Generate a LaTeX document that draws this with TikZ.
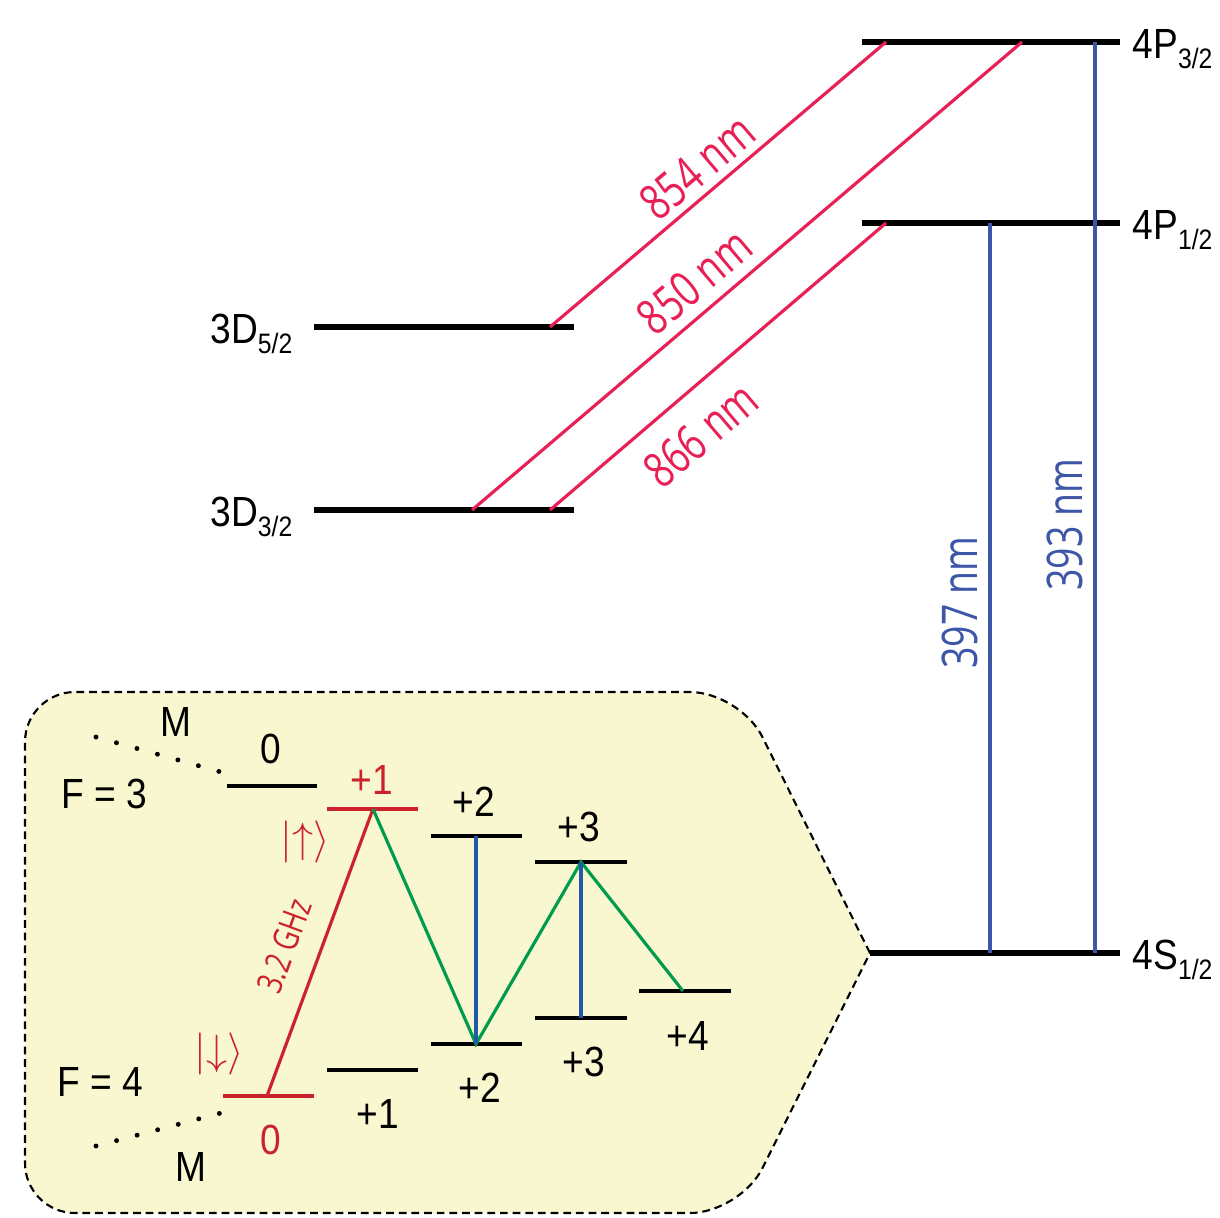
\documentclass[tikz,border=0pt]{standalone}
\usepackage{fontspec}
\setmainfont{Liberation Sans}[FakeStretch=0.88]
\newfontfamily\wavefont{Open Sans}[FakeStretch=0.76]
\usetikzlibrary{positioning, calc}
\definecolor{IONred}{RGB}{232, 32, 86}
\definecolor{IONblue}{RGB}{62, 86, 168}
\definecolor{QBred}{RGB}{204, 34, 44}
\definecolor{QBgreen}{RGB}{0, 156, 76}
\definecolor{QBblue}{RGB}{34, 90, 170}
\definecolor{QBfill}{RGB}{248, 247, 208}
\newcommand{\lsub}[1]{\raisebox{-1mm}{\fontsize{8}{9}\selectfont #1}}
\tikzset{
  lvl/.style={line width=1.5pt, black},
  sublvl/.style={line width=1.1pt, black},
  lbl/.style={inner sep=0pt, font=\fontsize{12}{14}\selectfont},
  wave/.style={inner sep=2pt, sloped, font=\wavefont\fontsize{14}{16}\selectfont},
  irline/.style={line width=0.9pt, IONred},
  uvline/.style={line width=0.9pt, IONblue},
  qbline/.style={line width=0.9pt},
  qbbox/.style={draw=black, fill=QBfill, dash pattern=on 2.2pt off 1.4pt, line width=0.6pt},
  mdots/.style={line width=1.4pt, line cap=round, dash pattern=on 0pt off 6.05pt},
}

\begin{document}
\begin{tikzpicture}
  \useasboundingbox (0,0) rectangle (12.2,-12.17);

  % hyperfine box
  \coordinate (tip) at (8.70,-9.53);
  \draw[qbbox] (tip) [rounded corners=5mm] -- (7.40,-6.92) -- (0.25,-6.92)
    -- (0.25,-12.13) -- (7.40,-12.13) -- (tip);

  % fine structure levels
  \coordinate (P32a) at (8.62,-0.42);  \coordinate (P32b) at (11.20,-0.42);
  \coordinate (P12a) at (8.62,-2.23);  \coordinate (P12b) at (11.20,-2.23);
  \coordinate (S12b) at (11.20,-9.53);
  \coordinate (D52a) at (3.14,-3.27);  \coordinate (D52b) at (5.74,-3.27);
  \coordinate (D32a) at (3.14,-5.10);  \coordinate (D32b) at (5.74,-5.10);
  \draw[lvl] (P32a) -- (P32b);
  \draw[lvl] (P12a) -- (P12b);
  \draw[lvl] (tip) -- (S12b);
  \draw[lvl] (D52a) -- (D52b);
  \draw[lvl] (D32a) -- (D32b);

  \node[lbl, anchor=base west] (P32) at (11.32,-0.58) {4P\lsub{3/2}};
  \node[lbl, anchor=base west] (P12) at (11.32,-2.39) {4P\lsub{1/2}};
  \node[lbl, anchor=base west] (S12) at (11.32,-9.69) {4S\lsub{1/2}};
  \node[lbl, anchor=base east] (D52) at (2.93,-3.43) {3D\lsub{5/2}};
  \node[lbl, anchor=base east] (D32) at (2.93,-5.26) {3D\lsub{3/2}};

  % transitions
  \coordinate (t854a) at (5.50,-3.27);  \coordinate (t854b) at (8.86,-0.42);
  \coordinate (t850a) at (4.72,-5.10);  \coordinate (t850b) at (10.22,-0.42);
  \coordinate (t866a) at (5.50,-5.10);  \coordinate (t866b) at (8.86,-2.23);
  \coordinate (t397a) at (9.90,-9.53);  \coordinate (t397b) at (9.90,-2.23);
  \coordinate (t393a) at (10.95,-9.53); \coordinate (t393b) at (10.95,-0.42);
  \draw[irline] (t854a) -- node[wave, IONred, pos=0.49, above] (w854) {854 nm} (t854b);
  \draw[irline] (t850a) -- node[wave, IONred, pos=0.44, above=1pt] (w850) {850 nm} (t850b);
  \draw[irline] (t866a) -- node[wave, IONred, pos=0.37, below=4pt] (w866) {866 nm} (t866b);
  \draw[uvline] (t397a) -- node[wave, IONblue, pos=0.48, above=1pt] (w397) {397 nm} (t397b);
  \draw[uvline] (t393a) -- node[wave, IONblue, pos=0.47, above=1pt] (w393) {393 nm} (t393b);

  % hyperfine levels
  \coordinate (u0a) at (2.27,-7.86);  \coordinate (u0b) at (3.17,-7.86);
  \coordinate (u1a) at (3.27,-8.09);  \coordinate (u1b) at (4.18,-8.09);
  \coordinate (u2a) at (4.31,-8.36);  \coordinate (u2b) at (5.22,-8.36);
  \coordinate (u3a) at (5.35,-8.62);  \coordinate (u3b) at (6.27,-8.62);
  \coordinate (d0a) at (2.23,-10.96); \coordinate (d0b) at (3.14,-10.96);
  \coordinate (d1a) at (3.27,-10.70); \coordinate (d1b) at (4.18,-10.70);
  \coordinate (d2a) at (4.31,-10.44); \coordinate (d2b) at (5.22,-10.44);
  \coordinate (d3a) at (5.35,-10.18); \coordinate (d3b) at (6.27,-10.18);
  \coordinate (d4a) at (6.39,-9.91);  \coordinate (d4b) at (7.31,-9.91);
  \draw[sublvl] (u0a) -- (u0b);
  \draw[sublvl, QBred] (u1a) -- (u1b);
  \draw[sublvl] (u2a) -- (u2b);
  \draw[sublvl] (u3a) -- (u3b);
  \draw[sublvl, QBred] (d0a) -- (d0b);
  \draw[sublvl] (d1a) -- (d1b);
  \draw[sublvl] (d2a) -- (d2b);
  \draw[sublvl] (d3a) -- (d3b);
  \draw[sublvl] (d4a) -- (d4b);

  % qubit and coupling lines
  \coordinate (q0) at (2.67,-10.96);
  \coordinate (q1) at (3.73,-8.09);
  \coordinate (g2) at (4.76,-10.44);
  \coordinate (b2) at (4.76,-8.36);
  \coordinate (g3) at (5.81,-8.62);
  \coordinate (b3) at (5.81,-10.18);
  \coordinate (g4) at (6.83,-9.91);
  \draw[qbline, QBred] (q0) -- node[pos=0.48, sloped, above=4pt, inner sep=2pt,
    font=\wavefont\fontsize{10}{12}\selectfont] (ghz) {3.2 GHz} (q1);
  \draw[qbline, QBgreen] (q1) -- (g2) -- (g3) -- (g4);
  \draw[qbline, QBblue] (b2) -- (g2);
  \draw[qbline, QBblue] (g3) -- (b3);

  % M dots
  \coordinate (mu1) at (0.96,-7.37);  \coordinate (mu2) at (2.21,-7.72);
  \coordinate (md1) at (0.96,-11.46); \coordinate (md2) at (2.21,-11.13);
  \draw[mdots] (mu1) -- (mu2);
  \draw[mdots] (md1) -- (md2);

  % hyperfine labels
  \node[lbl] (Mup) at (1.76,-7.22) {M};
  \node[lbl] (Mdn) at (1.91,-11.67) {M};
  \node[lbl] (F3) at (1.04,-7.94) {F = 3};
  \node[lbl] (F4) at (1.00,-10.82) {F = 4};
  \node[lbl] (mu0) at (2.71,-7.49) {0};
  \node[lbl, QBred] (mu1l) at (3.72,-7.80) {+1};
  \node[lbl] (mu2l) at (4.74,-8.02) {+2};
  \node[lbl] (mu3l) at (5.79,-8.27) {+3};
  \node[lbl, QBred] (md0) at (2.71,-11.40) {0};
  \node[lbl] (md1l) at (3.78,-11.14) {+1};
  \node[lbl] (md2l) at (4.80,-10.88) {+2};
  \node[lbl] (md3l) at (5.84,-10.62) {+3};
  \node[lbl] (md4l) at (6.88,-10.36) {+4};
  \node[QBred, inner sep=0pt, font=\fontsize{12}{14}\selectfont] (up) at (3.05,-8.42) {$|{\uparrow}\rangle$};
  \node[QBred, inner sep=0pt, font=\fontsize{12}{14}\selectfont] (down) at (2.19,-10.54) {$|{\downarrow}\rangle$};
\end{tikzpicture}
\end{document}
